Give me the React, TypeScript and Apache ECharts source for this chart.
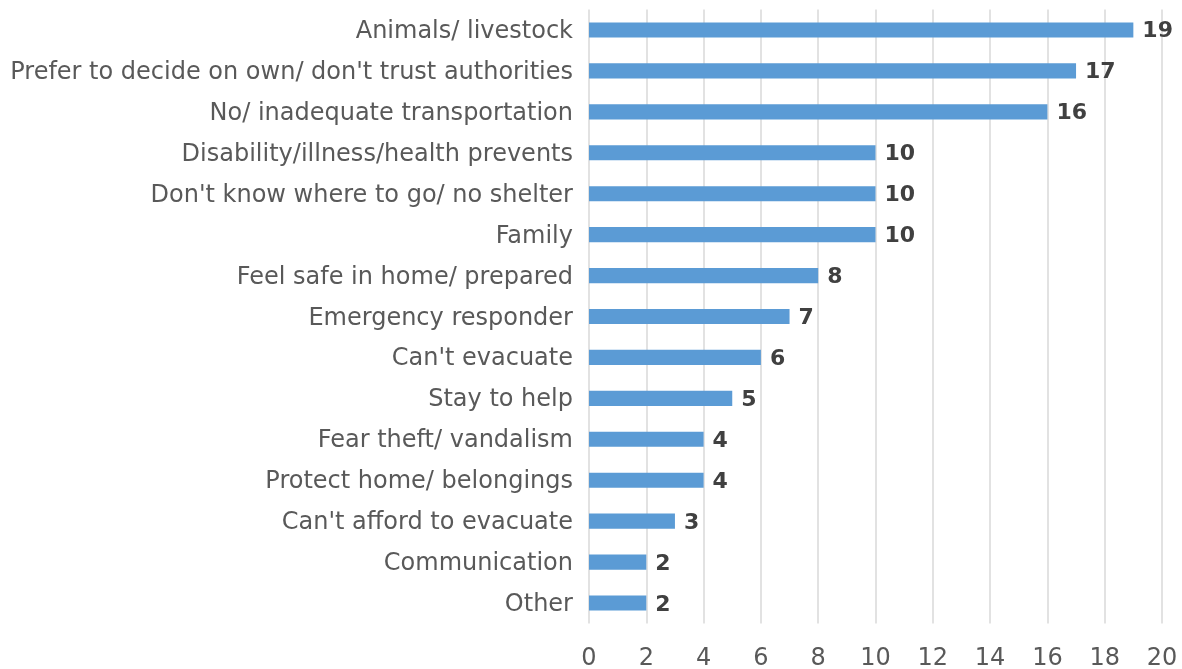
import React, { useEffect, useRef } from "react";
import * as echarts from "echarts";

const categories = [
  "Animals/ livestock",
  "Prefer to decide on own/ don't trust authorities",
  "No/ inadequate transportation",
  "Disability/illness/health prevents",
  "Don't know where to go/ no shelter",
  "Family",
  "Feel safe in home/ prepared",
  "Emergency responder",
  "Can't evacuate",
  "Stay to help",
  "Fear theft/ vandalism",
  "Protect home/ belongings",
  "Can't afford to evacuate",
  "Communication",
  "Other",
];
const values = [19, 17, 16, 10, 10, 10, 8, 7, 6, 5, 4, 4, 3, 2, 2];

const FONT = "'DejaVu Sans', Verdana, sans-serif";

export default function App() {
  const ref = useRef<HTMLDivElement>(null);
  useEffect(() => {
    if (!ref.current) return;
    const chart = echarts.init(ref.current, null, { renderer: "svg" });
    chart.setOption({
      animation: false,
      textStyle: { fontFamily: FONT },
      grid: { left: 589, right: 20, top: 9.5, bottom: 45.5, containLabel: false },
      xAxis: {
        type: "value",
        min: 0,
        max: 20,
        interval: 2,
        axisLine: { show: false },
        axisTick: { show: false },
        axisLabel: { color: "#595959", fontSize: 24, margin: 21, fontFamily: FONT },
        splitLine: { show: true, lineStyle: { color: "#d9d9d9", width: 1.5 } },
      },
      yAxis: {
        type: "category",
        data: categories,
        inverse: true,
        axisLine: { show: false },
        axisTick: { show: false },
        axisLabel: { color: "#595959", fontSize: 24, margin: 16, fontFamily: FONT },
      },
      series: [
        {
          type: "bar",
          data: values,
          barWidth: "37%",
          itemStyle: { color: "#5B9BD5" },
          label: {
            show: true,
            position: "right",
            distance: 9,
            color: "#404040",
            fontWeight: "bold",
            fontSize: 22,
            fontFamily: FONT,
          },
        },
      ],
    });
    return () => chart.dispose();
  }, []);
  return (
    <div
      ref={ref}
      style={{ position: "fixed", left: 0, top: 0, width: 1182, height: 669 }}
    />
  );
}
